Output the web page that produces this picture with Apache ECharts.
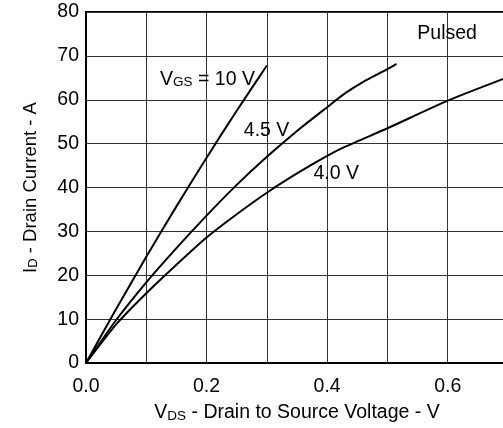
<!DOCTYPE html>
<html>
<head>
<meta charset="utf-8">
<script src="https://cdn.jsdelivr.net/npm/echarts@6/dist/echarts.min.js"></script>
<style>
html,body{margin:0;padding:0;background:#fff;}
#chart{width:503px;height:428px;}
</style>
</head>
<body>
<div id="chart"></div>
<script>
// Data (VDS in V, ID in A)
const curve10V = [[0,0],[0.05,12.3],[0.1,24.2],[0.15,35.7],[0.2,46.8],[0.25,57.5],[0.3,67.8]];
const curve45V = [[0,0],[0.05,9.8],[0.1,18.4],[0.15,26.2],[0.2,33.6],[0.25,40.6],[0.3,47],[0.35,52.9],[0.4,58.3],[0.43,61.5],[0.46,64.1],[0.5,67],[0.515,68.2]];
const curve40V = [[0,0],[0.05,8.8],[0.1,15.9],[0.15,22.4],[0.2,28.6],[0.25,33.9],[0.3,38.8],[0.35,43.2],[0.4,47.2],[0.43,49.3],[0.5,53.5],[0.6,59.8],[0.693,64.8]];
const seriesNames = ['10 V','4.5 V','4.0 V'];
const xTicks = [0, 0.1, 0.2, 0.3, 0.4, 0.5, 0.6, 0.7];
const yTicks = [0, 10, 20, 30, 40, 50, 60, 70, 80];
const annotations = [
  {coord:[0.2015,64.6], text:'{n|V}{s|GS}{n| = 10 V}'},
  {coord:[0.2995,52.9], text:'{n|4.5 V}'},
  {coord:[0.415,43.2], text:'{n|4.0 V}'},
  {coord:[0.599,75], text:'{n|Pulsed}'}
];

const FONT = 'Liberation Sans, Arial, sans-serif';
const FS = 19.5;
const rich = {
  n:{fontFamily:FONT,fontSize:FS,color:'#000'},
  s:{fontFamily:FONT,fontSize:13.5,color:'#000',verticalAlign:'bottom'}
};

const chart = echarts.init(document.getElementById('chart'), null, {renderer:'canvas'});
function mkSeries(name, data, withMarks){
  const s = {
    name, type:'line', data, showSymbol:false, smooth:0.2,
    lineStyle:{color:'#000',width:2}, animation:false, z:5
  };
  if(withMarks){
    s.markPoint = {
      symbol:'rect', symbolSize:0, animation:false,
      data: annotations.map(a=>({coord:a.coord, label:{show:true, position:'inside', formatter:a.text, rich}}))
    };
  }
  return s;
}
chart.setOption({
  animation:false,
  backgroundColor:'#fff',
  grid:{left:86,top:12,right:-5,bottom:65,outerBoundsMode:'none',containLabel:false,
        show:true,borderColor:'#000',borderWidth:2,backgroundColor:'transparent'},
  xAxis:{
    type:'value', min:xTicks[0], max:xTicks[xTicks.length-1], interval:0.1,
    axisLine:{show:true,lineStyle:{color:'#000',width:2}},
    axisTick:{show:false},
    splitLine:{show:true,lineStyle:{color:'#333',width:1}},
    axisLabel:{fontFamily:FONT,fontSize:FS,color:'#000',margin:14,
      formatter:v=>{const r=Math.round(v*10); return (r%2===0 && r<7)? (v.toFixed(1)) : '';}},
    name:'{n|V}{s|DS}{n| - Drain to Source Voltage - V}',
    nameLocation:'middle', nameGap:40,
    nameTextStyle:{rich}
  },
  yAxis:{
    type:'value', min:yTicks[0], max:yTicks[yTicks.length-1], interval:10,
    axisLine:{show:true,lineStyle:{color:'#000',width:2}},
    axisTick:{show:false},
    splitLine:{show:true,lineStyle:{color:'#333',width:1}},
    axisLabel:{fontFamily:FONT,fontSize:FS,color:'#000',margin:7},
    name:'{n|I}{s|D}{n| - Drain Current - A}',
    nameLocation:'middle', nameGap:46, nameRotate:90,
    nameTextStyle:{rich:{n:Object.assign({},rich.n,{fontSize:18.5}),s:Object.assign({},rich.s,{fontSize:13})}}
  },
  series:[
    mkSeries(seriesNames[0], curve10V, true),
    mkSeries(seriesNames[1], curve45V, false),
    mkSeries(seriesNames[2], curve40V, false)
  ]
});
</script>
</body>
</html>
